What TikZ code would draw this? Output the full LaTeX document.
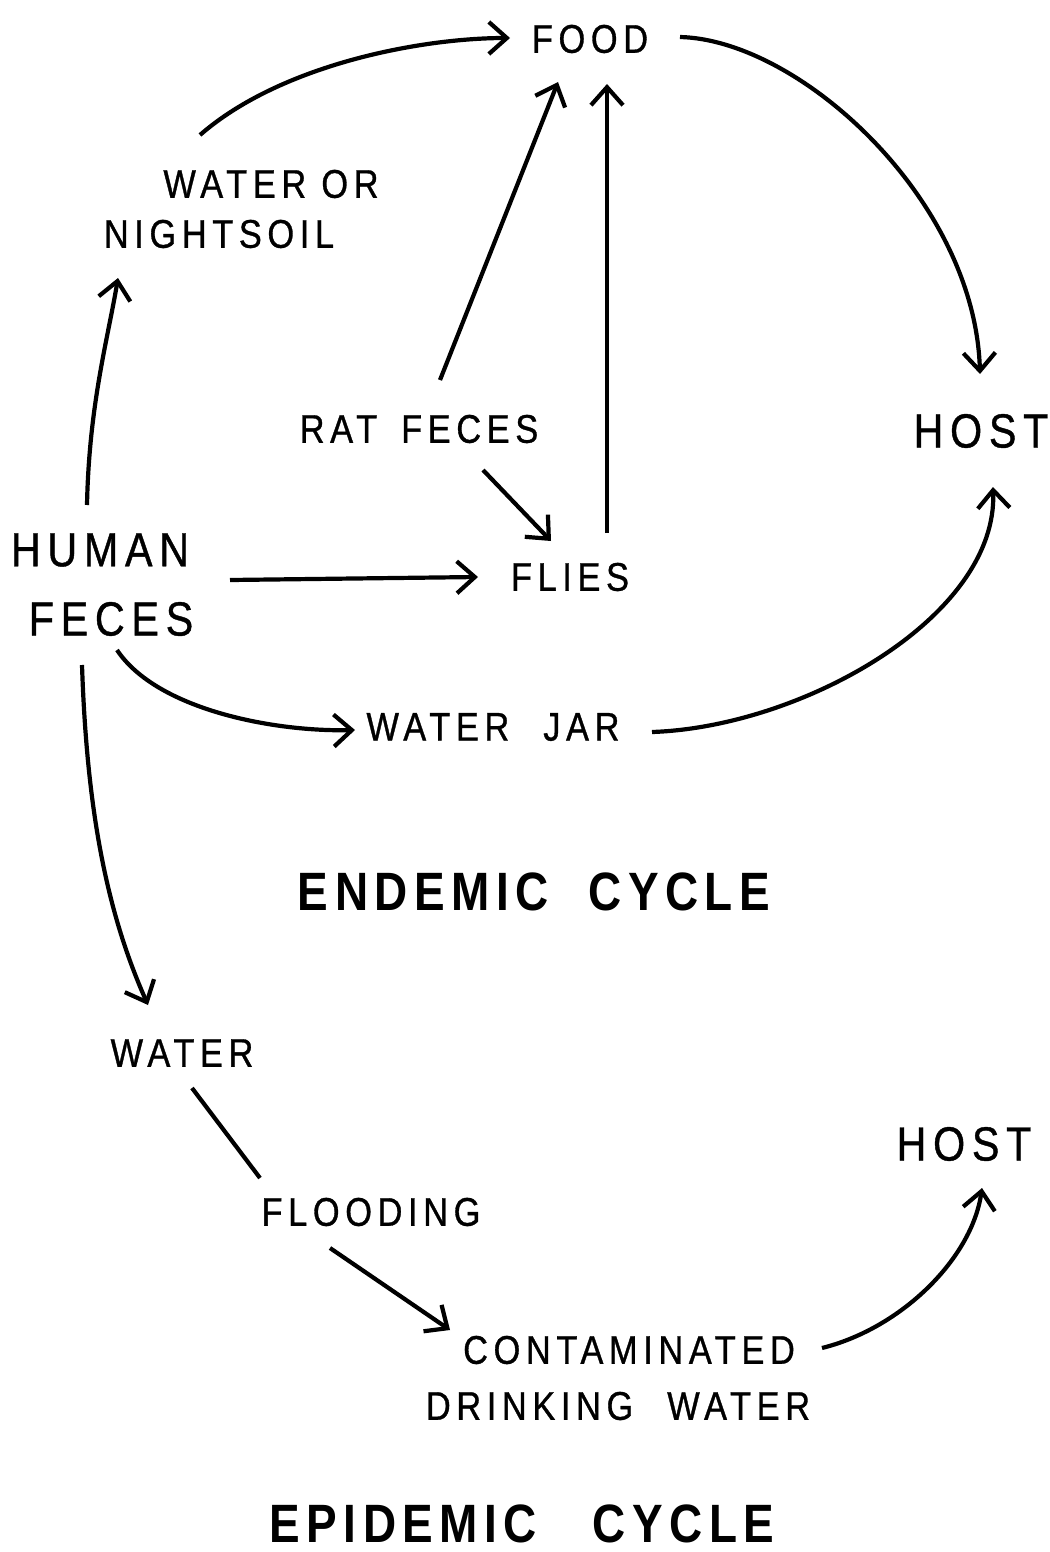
\documentclass[tikz,border=0pt]{standalone}
\usepackage{fontspec}
\newfontfamily\lab[FakeStretch=0.86,LetterSpace=14,FakeBold=0.8]{Liberation Sans}
\newfontfamily\labbold[FakeStretch=0.85,LetterSpace=12]{Liberation Sans Bold}
\usetikzlibrary{arrows.meta}
\begin{document}
\begin{tikzpicture}[x=1pt,y=-1pt,
 lbl/.style={inner sep=0pt, anchor=center, font=\lab\fontsize{40}{44}\selectfont},
 big/.style={inner sep=0pt, anchor=center, font=\lab\fontsize{48}{52}\selectfont},
 ttl/.style={inner sep=0pt, anchor=center, font=\labbold\fontsize{54}{58}\selectfont},
 arr/.style={line width=4.2pt, -{Straight Barb[length=18pt,width=32pt]}},
 ln/.style={line width=4.2pt}]
\useasboundingbox[fill=white] (0,0) rectangle (1049,1552);
% nodes
\node[lbl] (food) at (590,39) {FOOD};
\node[lbl] (wo) at (271,184) {WATER OR};
\node[lbl] (ns) at (219,234) {NIGHTSOIL};
\node[lbl] (rat) at (419,429) {RAT\hspace{24pt}FECES};
\node[big] (host) at (981,431) {HOST};
\node[big] (human) at (100,550) {HUMAN};
\node[big] (feces) at (111,619) {FECES};
\node[lbl] (flies) at (570,577) {FLIES};
\node[lbl] (jar) at (493,727) {WATER\hspace{34pt}JAR};
\node[ttl] (endemic) at (534,892) {ENDEMIC\hspace{40pt}CYCLE};
\node[lbl] (water) at (182,1053) {WATER};
\node[lbl] (flood) at (371,1212) {FLOODING};
\node[big] (host2) at (964,1144) {HOST};
\node[lbl] (cont) at (629,1350) {CONTAMINATED};
\node[lbl] (drink) at (618,1406) {DRINKING\hspace{34pt}WATER};
\node[ttl] (epidemic) at (522,1524) {EPIDEMIC\hspace{56pt}CYCLE};
% connectors
\draw[arr] ([shift={(-71,-49)}]wo.center) .. controls +(80,-70) and +(-90,0) .. ([shift={(-80,-1)}]food.center);
\draw[arr] ([shift={(90,-2)}]food.center) .. controls +(120,3) and +(-5,-174) .. ([shift={(-1,-57)}]host.center);
\draw[arr] ([shift={(21,-49)}]rat.center) -- ([shift={(-32,43)}]food.center);
\draw[arr] ([shift={(37,-44)}]flies.center) -- ([shift={(17,45)}]food.center);
\draw[arr] ([shift={(64,41)}]rat.center) -- ([shift={(-19,-36)}]flies.center);
\draw[arr] ([shift={(130,30)}]human.center) -- ([shift={(-92,0)}]flies.center);
\draw[arr] ([shift={(-13,-45)}]human.center) .. controls +(2,-100) and +(-10,60) .. ([shift={(-101,44)}]ns.center);
\draw[arr] ([shift={(6,31)}]feces.center) .. controls +(40,60) and +(-80,2) .. ([shift={(-138,3)}]jar.center);
\draw[arr] ([shift={(159,5)}]jar.center) .. controls +(150,-5) and +(5,130) .. ([shift={(12,56)}]host.center);
\draw[arr] ([shift={(-29,46)}]feces.center) .. controls +(5,150) and +(-40,-90) .. ([shift={(-34,-48)}]water.center);
\draw[ln] ([shift={(10,35)}]water.center) -- ([shift={(-111,-34)}]flood.center);
\draw[arr] ([shift={(-41,36)}]flood.center) -- ([shift={(-179,-20)}]cont.center);
\draw[arr] ([shift={(193,-2)}]cont.center) .. controls +(80,-20) and +(-10,70) .. ([shift={(18,44)}]host2.center);
\end{tikzpicture}
\end{document}
